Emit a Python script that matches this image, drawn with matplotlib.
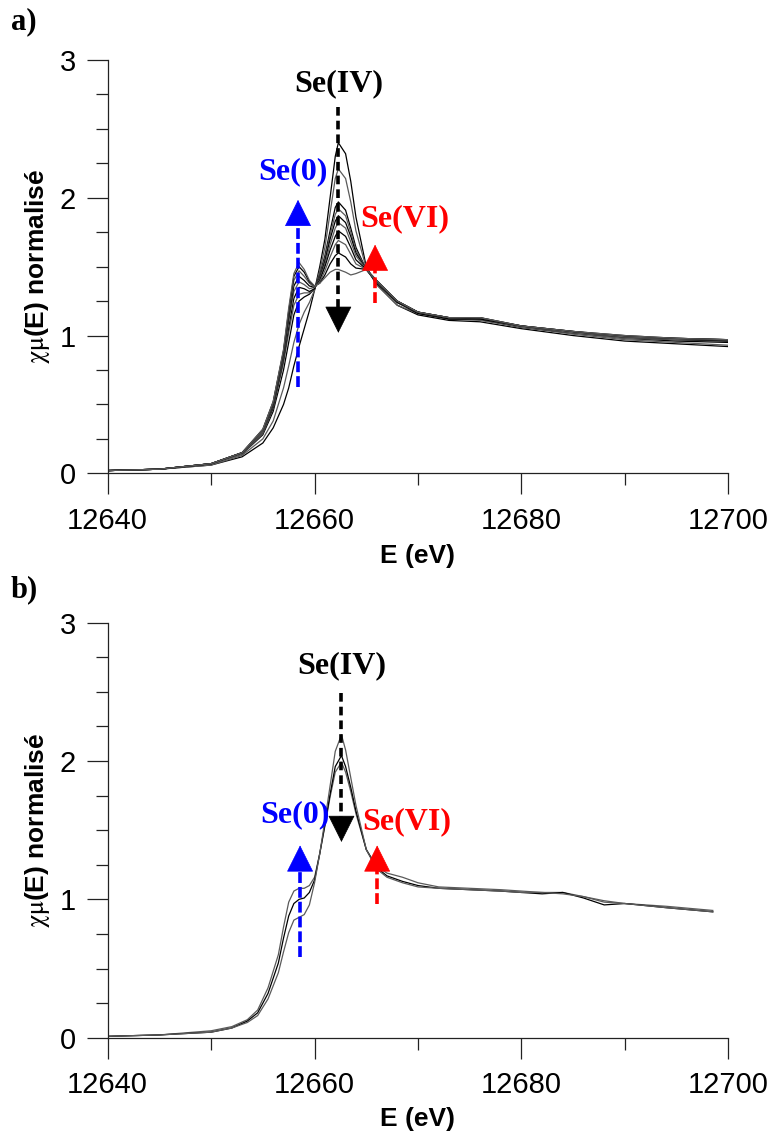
"""
Se K-edge XANES spectra, two panels (a, b), with Se(0) / Se(IV) / Se(VI)
markers showing where each oxidation state grows or shrinks.
"""

import matplotlib
matplotlib.use("Agg")
import matplotlib.pyplot as plt
from matplotlib.ticker import MultipleLocator

plt.rcParams["font.family"] = ["Liberation Sans", "DejaVu Sans"]
plt.rcParams["mathtext.fontset"] = "stix"

# --------------------------------------------------------------------------- #
# panel a: energy grid (eV) and normalised absorption of each spectrum
energy_a = [12640, 12645, 12650, 12653, 12655, 12656, 12657, 12657.5, 12658,
            12658.5, 12659, 12659.5, 12660, 12660.5, 12661, 12661.5, 12662,
            12662.3, 12663, 12663.5, 12664, 12665, 12666, 12668, 12670, 12673,
            12676, 12680, 12685, 12690, 12695, 12700]

spectra_a = [
    [0.02, 0.03, 0.06, 0.12, 0.22, 0.33, 0.50, 0.62, 0.78, 0.92, 1.05, 1.18,
     1.33, 1.50, 1.70, 2.00, 2.30, 2.40, 2.32, 2.12, 1.86, 1.50, 1.37, 1.22,
     1.15, 1.11, 1.10, 1.05, 1.00, 0.96, 0.94, 0.92],
    [0.02, 0.03, 0.06, 0.13, 0.25, 0.38, 0.62, 0.78, 0.95, 1.08, 1.17, 1.24,
     1.33, 1.47, 1.64, 1.89, 2.14, 2.21, 2.14, 1.97, 1.76, 1.49, 1.37, 1.22,
     1.16, 1.12, 1.11, 1.06, 1.01, 0.97, 0.95, 0.93],
    [0.02, 0.03, 0.07, 0.14, 0.28, 0.45, 0.75, 0.95, 1.15, 1.25, 1.28, 1.30,
     1.34, 1.44, 1.58, 1.76, 1.93, 1.97, 1.91, 1.78, 1.64, 1.48, 1.38, 1.24,
     1.16, 1.12, 1.12, 1.06, 1.02, 0.98, 0.96, 0.95],
    [0.02, 0.03, 0.07, 0.14, 0.29, 0.47, 0.80, 1.02, 1.22, 1.30, 1.31, 1.31,
     1.34, 1.43, 1.56, 1.73, 1.88, 1.92, 1.87, 1.75, 1.62, 1.48, 1.39, 1.24,
     1.17, 1.12, 1.12, 1.06, 1.02, 0.98, 0.97, 0.96],
    [0.02, 0.03, 0.07, 0.15, 0.30, 0.48, 0.83, 1.06, 1.27, 1.35, 1.34, 1.32,
     1.34, 1.42, 1.54, 1.70, 1.83, 1.87, 1.82, 1.72, 1.60, 1.48, 1.39, 1.24,
     1.17, 1.12, 1.12, 1.07, 1.02, 0.99, 0.97, 0.96],
    [0.02, 0.03, 0.07, 0.15, 0.30, 0.49, 0.85, 1.10, 1.32, 1.39, 1.37, 1.34,
     1.35, 1.41, 1.52, 1.66, 1.78, 1.82, 1.78, 1.68, 1.58, 1.48, 1.39, 1.25,
     1.17, 1.13, 1.12, 1.07, 1.02, 0.99, 0.97, 0.97],
    [0.02, 0.03, 0.07, 0.15, 0.31, 0.50, 0.87, 1.13, 1.36, 1.43, 1.40, 1.36,
     1.35, 1.40, 1.50, 1.62, 1.72, 1.76, 1.72, 1.64, 1.55, 1.48, 1.40, 1.25,
     1.17, 1.13, 1.12, 1.07, 1.03, 0.99, 0.98, 0.97],
    [0.02, 0.03, 0.07, 0.15, 0.31, 0.51, 0.88, 1.16, 1.40, 1.47, 1.43, 1.38,
     1.35, 1.39, 1.47, 1.57, 1.66, 1.69, 1.66, 1.59, 1.52, 1.48, 1.40, 1.25,
     1.17, 1.13, 1.13, 1.07, 1.03, 0.99, 0.98, 0.97],
    [0.02, 0.03, 0.07, 0.15, 0.32, 0.52, 0.89, 1.18, 1.43, 1.50, 1.46, 1.39,
     1.36, 1.38, 1.44, 1.52, 1.58, 1.60, 1.57, 1.52, 1.49, 1.48, 1.40, 1.25,
     1.17, 1.13, 1.13, 1.07, 1.03, 1.00, 0.98, 0.97],
    [0.02, 0.03, 0.07, 0.15, 0.32, 0.52, 0.90, 1.20, 1.45, 1.53, 1.48, 1.40,
     1.36, 1.38, 1.42, 1.46, 1.48, 1.48, 1.46, 1.44, 1.45, 1.48, 1.40, 1.25,
     1.17, 1.13, 1.13, 1.07, 1.03, 1.00, 0.98, 0.97],
]

# panel b
energy_b = [12640, 12645, 12650, 12652, 12653.5, 12654.5, 12655.5, 12656.5,
            12657, 12657.5, 12658, 12658.5, 12659, 12659.5, 12660, 12660.5,
            12661, 12661.5, 12662, 12662.6, 12663, 12663.5, 12664, 12665,
            12666, 12667, 12668.5, 12670, 12672, 12675, 12678, 12680, 12682,
            12684, 12686, 12688, 12690, 12694, 12698.5]

spectra_b = [
    [0.01, 0.02, 0.05, 0.08, 0.13, 0.20, 0.36, 0.60, 0.80, 0.98, 1.06, 1.08,
     1.08, 1.10, 1.16, 1.33, 1.53, 1.74, 1.92, 1.99, 1.92, 1.78, 1.62, 1.36,
     1.24, 1.19, 1.16, 1.12, 1.09, 1.08, 1.07, 1.06, 1.05, 1.05, 1.02, 0.99,
     0.97, 0.95, 0.92],
    [0.01, 0.02, 0.04, 0.07, 0.12, 0.18, 0.32, 0.54, 0.72, 0.88, 0.97, 1.00,
     1.01, 1.05, 1.14, 1.33, 1.54, 1.76, 1.96, 2.04, 1.96, 1.81, 1.64, 1.36,
     1.23, 1.17, 1.13, 1.10, 1.08, 1.07, 1.06, 1.05, 1.04, 1.05, 1.01, 0.96,
     0.97, 0.94, 0.91],
    [0.01, 0.02, 0.04, 0.07, 0.11, 0.16, 0.28, 0.47, 0.62, 0.76, 0.85, 0.87,
     0.89, 0.96, 1.12, 1.33, 1.57, 1.82, 2.07, 2.19, 2.08, 1.88, 1.68, 1.36,
     1.22, 1.16, 1.12, 1.09, 1.08, 1.07, 1.06, 1.05, 1.05, 1.04, 1.02, 0.98,
     0.97, 0.94, 0.91],
]

line_colors = ["black", "#5a5a5a"]

# marker positions: (label, colour, energy, text y, shaft start, head base, tip)
markers_a = [
    ("Se(IV)", "black", 12662.3, 2.83, 2.66, 1.20, 1.02),
    ("Se(0)", "#0000ff", 12658.4, 2.19, 0.63, 1.80, 1.985),
    ("Se(VI)", "#ff0000", 12665.85, 1.85, 1.24, 1.475, 1.66),
]
markers_b = [
    ("Se(IV)", "black", 12662.6, 2.69, 2.49, 1.59, 1.415),
    ("Se(0)", "#0000ff", 12658.6, 1.61, 0.58, 1.21, 1.39),
    ("Se(VI)", "#ff0000", 12666.05, 1.56, 0.97, 1.21, 1.39),
]
text_dx = {"Se(IV)": 0.0, "Se(0)": -0.5, "Se(VI)": 2.85}


# --------------------------------------------------------------------------- #
def style_axes(ax):
    ax.set_xlim(12640, 12700)
    ax.set_ylim(0, 3)
    for s in ("top", "right"):
        ax.spines[s].set_visible(False)
    for s in ("left", "bottom"):
        ax.spines[s].set_color("#222222")
        ax.spines[s].set_linewidth(0.9)
    ax.xaxis.set_major_locator(MultipleLocator(20))
    ax.xaxis.set_minor_locator(MultipleLocator(10))
    ax.yaxis.set_major_locator(MultipleLocator(1))
    ax.yaxis.set_minor_locator(MultipleLocator(0.25))
    ax.tick_params(which="major", length=15, width=0.9, color="#222222",
                   labelsize=21)
    ax.tick_params(which="minor", length=8.5, width=0.9, color="#222222")
    ax.tick_params(axis="x", which="major", pad=9)
    ax.tick_params(axis="y", which="major", pad=8)
    ax.set_xlabel("E (eV)", fontsize=19, fontweight="bold")
    ax.set_ylabel(r"$\mathrm{\chi\mu}$(E) normalisé", fontsize=19,
                  fontweight="bold")
    ax.yaxis.set_label_coords(-0.09, 0.5)


def draw_markers(ax, markers):
    for label, col, e, ty, y0, ybase, ytip in markers:
        dash = (0, (2.4, 1.4)) if col == "black" else (0, (3.0, 1.1))
        ax.plot([e, e], [y0, ybase], color=col, lw=2.6, linestyle=dash,
                solid_capstyle="butt", dash_capstyle="butt", zorder=5)
        ax.annotate("", xy=(e, ytip), xytext=(e, ybase),
                    arrowprops=dict(arrowstyle="-|>,head_length=1.0,head_width=0.5",
                                    mutation_scale=18, color=col, lw=0.5,
                                    shrinkA=0, shrinkB=0), zorder=6)
        ax.text(e + text_dx[label], ty, label, color=col, ha="center",
                va="center", fontsize=23, fontweight="bold",
                family=["Liberation Serif", "DejaVu Serif"], zorder=7)


# --------------------------------------------------------------------------- #
fig = plt.figure(figsize=(7.73, 11.31), dpi=100)
ax_a = fig.add_axes([0.1393, 0.5815, 0.8029, 0.3654])
ax_b = fig.add_axes([0.1393, 0.0825, 0.8029, 0.3669])

for i, ys in enumerate(spectra_a):
    ax_a.plot(energy_a, ys, color=line_colors[i % 2], lw=0.9)
for i, ys in enumerate(spectra_b):
    ax_b.plot(energy_b, ys, color=line_colors[(i + 1) % 2], lw=0.9)

for ax in (ax_a, ax_b):
    style_axes(ax)
ax_a.xaxis.set_label_coords(0.5, -0.172)
ax_b.xaxis.set_label_coords(0.5, -0.166)

draw_markers(ax_a, markers_a)
draw_markers(ax_b, markers_b)

fig.text(11 / 773, 1 - 22 / 1131, "a)", fontsize=22, fontweight="bold",
         family=["Liberation Serif"], ha="left", va="center")
fig.text(11 / 773, 1 - 590 / 1131, "b)", fontsize=22, fontweight="bold",
         family=["Liberation Serif"], ha="left", va="center")

fig.savefig("out.png", dpi=100)
